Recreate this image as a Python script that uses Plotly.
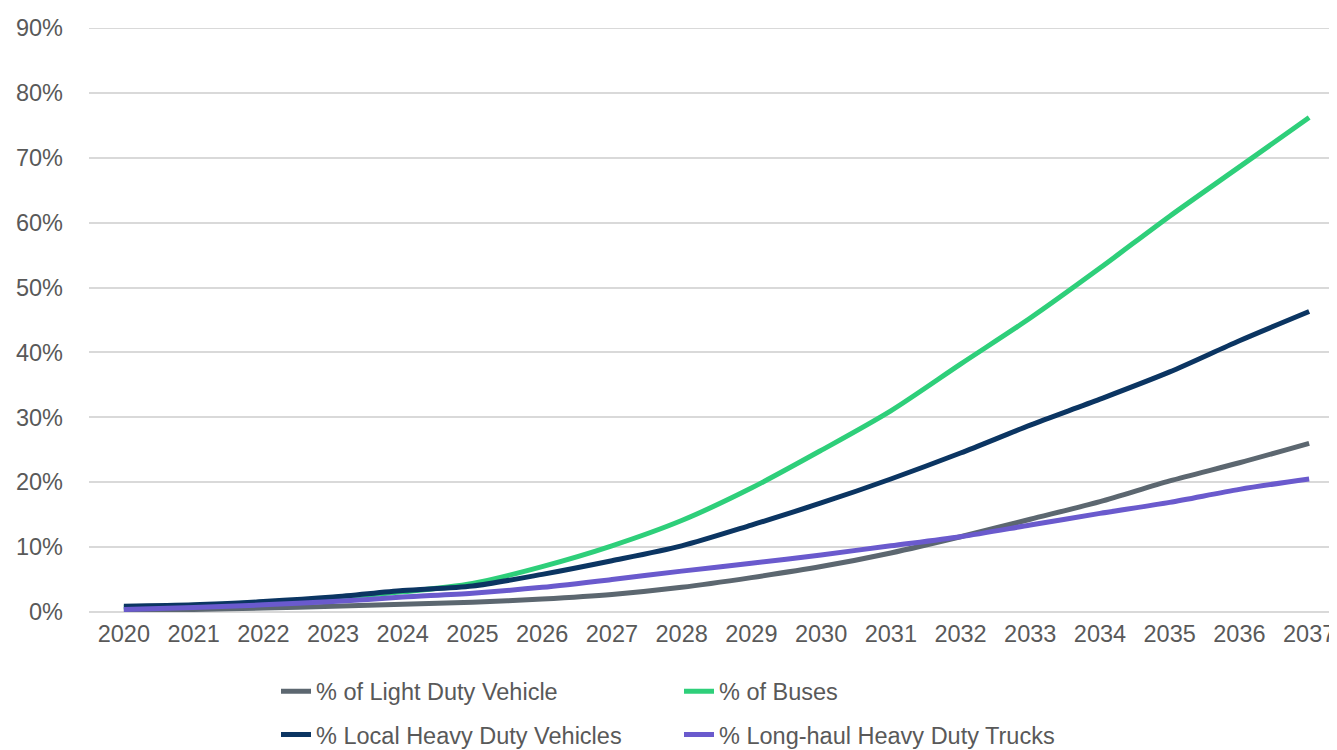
import plotly.graph_objects as go

years = [str(y) for y in range(2020, 2038)]
light_duty = [0.3, 0.4, 0.6, 0.9, 1.2, 1.5, 2.0, 2.7, 3.8, 5.3, 7.0, 9.1, 11.6, 14.3, 17.0, 20.2, 23.0, 26.0]
buses = [0.7, 1.0, 1.5, 2.2, 3.1, 4.4, 7.0, 10.2, 14.1, 19.1, 24.9, 31.0, 38.2, 45.3, 53.0, 61.0, 68.6, 76.2]
local_heavy = [0.9, 1.1, 1.6, 2.3, 3.3, 4.0, 5.8, 7.9, 10.2, 13.4, 16.8, 20.5, 24.5, 28.8, 32.8, 37.0, 41.8, 46.3]
long_haul = [0.4, 0.7, 1.1, 1.6, 2.3, 2.9, 3.8, 5.0, 6.3, 7.5, 8.8, 10.2, 11.6, 13.4, 15.2, 16.9, 18.9, 20.5]

series = [
    ("% of Light Duty Vehicle", light_duty, "#5C6770", "legend"),
    ("% of Buses", buses, "#2ECF7A", "legend"),
    ("% Local Heavy Duty Vehicles", local_heavy, "#0B3562", "legend2"),
    ("% Long-haul Heavy Duty Trucks", long_haul, "#6A5ACD", "legend2"),
]

fig = go.Figure()
for name, vals, color, lg in series:
    fig.add_trace(go.Scatter(
        x=years, y=[v / 100 for v in vals], name=name, mode="lines",
        line=dict(color=color, width=5, shape="spline", smoothing=0.8),
        legend=lg,
    ))

font_family = "Liberation Sans, Arial, sans-serif"
text_color = "#595959"
fs = 23.5

fig.update_layout(
    width=1337, height=750,
    margin=dict(l=81, r=1, t=20, b=137),
    paper_bgcolor="white", plot_bgcolor="white",
    font=dict(family=font_family, color=text_color, size=fs),
    xaxis=dict(type="category", range=[-0.5, len(years) - 0.5], showgrid=False,
               zeroline=False, showline=False, ticks="",
               tickfont=dict(size=fs, color=text_color), ticklabelstandoff=5),
    yaxis=dict(range=[0, 0.9], dtick=0.1, tickformat=".0%", showgrid=True,
               gridcolor="#D9D9D9", gridwidth=2, zeroline=True, zerolinecolor="#D9D9D9",
               zerolinewidth=2, showline=False, ticks="",
               tickfont=dict(size=fs, color=text_color), ticklabelstandoff=25),
    legend=dict(orientation="h", x=(268 - 81) / 1255, xanchor="left", y=-0.136, yanchor="middle",
                entrywidth=358, entrywidthmode="pixels", font=dict(size=fs, color=text_color),
                bgcolor="rgba(0,0,0,0)"),
    legend2=dict(orientation="h", x=(268 - 81) / 1255, xanchor="left", y=-0.21, yanchor="middle",
                 entrywidth=358, entrywidthmode="pixels", font=dict(size=fs, color=text_color),
                 bgcolor="rgba(0,0,0,0)"),
    showlegend=True,
    shapes=[dict(type="line", xref="paper", yref="y", x0=0, x1=1, y0=0.9, y1=0.9,
                 line=dict(color="#D9D9D9", width=2), layer="below")],
)

fig.write_html("out.html")
